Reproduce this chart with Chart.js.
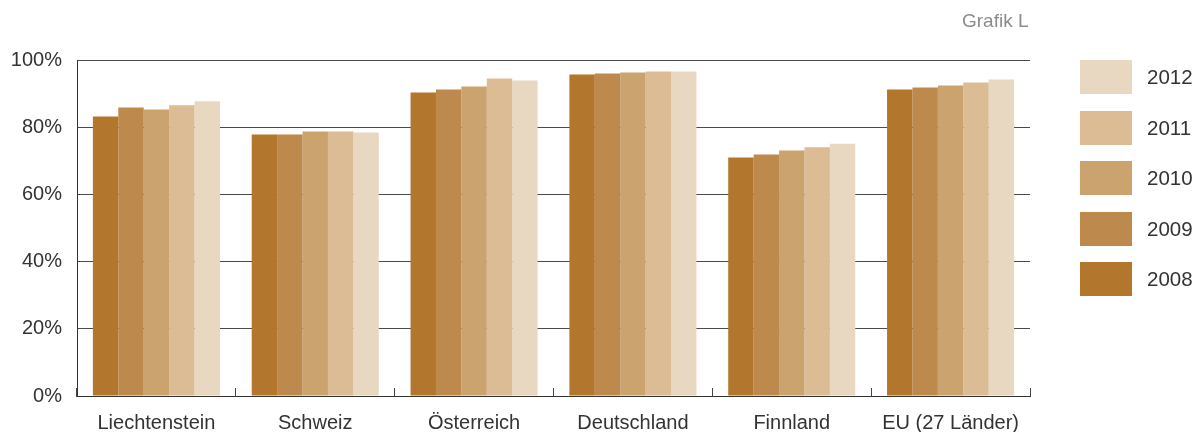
<!DOCTYPE html>
<html>
<head>
<meta charset="utf-8">
<script src="https://cdn.jsdelivr.net/npm/chart.js@4"></script>
<style>
  body { margin: 0; background: #fff; font-family: "Liberation Sans", Arial, sans-serif; }
  #wrap { position: relative; width: 1197px; height: 432px; overflow: hidden; }
  #chartbox { position: absolute; left: 0; top: 0; width: 1197px; height: 432px; }
  #source { position: absolute; left: 962px; top: 10px; font-size: 19px; color: #8c8c8c; }
  #legend { position: absolute; left: 1080px; top: 60px; }
  .item { display: flex; align-items: center; height: 34px; margin-bottom: 16.5px; }
  .swatch { width: 52px; height: 34px; }
  .lbl { margin-left: 15px; font-size: 20.5px; color: #333; }
</style>
</head>
<body>
<div id="wrap">
  <div id="chartbox"><canvas id="cnv"></canvas></div>
  <div id="source">Grafik L</div>
  <div id="legend"></div>
</div>
<script>
const countries = ['Liechtenstein', 'Schweiz', 'Österreich', 'Deutschland', 'Finnland', 'EU (27 Länder)'];
const years = ['2008', '2009', '2010', '2011', '2012'];
const yearColors = ['#b3762d', '#be894c', '#cba36f', '#dbbc95', '#e8d8c2'];

// share in percent, one array per year, same order as countries
const values2008 = [83.2, 77.8, 90.3, 95.7, 71.0, 91.2];
const values2009 = [85.9, 77.8, 91.2, 96.0, 71.9, 91.8];
const values2010 = [85.3, 78.7, 92.1, 96.3, 73.1, 92.4];
const values2011 = [86.5, 78.7, 94.5, 96.6, 74.0, 93.3];
const values2012 = [87.7, 78.4, 93.9, 96.6, 75.1, 94.2];
const allValues = [values2008, values2009, values2010, values2011, values2012];

const yTicks = [0, 20, 40, 60, 80, 100];

const FONT = '"Liberation Sans", Arial, sans-serif';

function buildDatasets(){
  return years.map((year, i) => {
    return {
      label: year,
      data: allValues[i],
      backgroundColor: yearColors[i],
      borderWidth: 0,
      categoryPercentage: 0.8,
      barPercentage: 1.0
    }
  });
}

function buildLegend(){
  const box = document.getElementById('legend');
  // newest year on top
  for (let i = years.length - 1; i >= 0; i--) {
    const item = document.createElement('div');
    item.className = 'item';
    const sw = document.createElement('div');
    sw.className = 'swatch';
    sw.style.background = yearColors[i];
    const lbl = document.createElement('div');
    lbl.className = 'lbl';
    lbl.textContent = years[i];
    item.appendChild(sw);
    item.appendChild(lbl);
    box.appendChild(item);
  }
}

buildLegend();

const ctx = document.getElementById('cnv').getContext('2d');
new Chart(ctx, {
  type: 'bar',
  data: {
    labels: countries,
    datasets: buildDatasets()
  },
  options: {
    responsive: true,
    maintainAspectRatio: false,
    animation: false,
    events: [],
    layout: {
      padding: { top: 60, right: 167, left: 0, bottom: 0 }
    },
    plugins: {
      legend: { display: false },
      tooltip: { enabled: false },
      title: { display: false }
    },
    scales: {
      x: {
        grid: {
          offset: true,
          drawOnChartArea: false,
          drawTicks: true,
          tickLength: -8,   // small marks pointing up into the plot
          color: '#444',
          lineWidth: 1
        },
        border: { display: true, color: '#333', width: 1 },
        ticks: {
          font: { family: FONT, size: 20 },
          color: '#333',
          padding: 23
        },
        afterFit: scale => { scale.height = 36; }
      },
      y: {
        min: 0,
        max: 100,
        afterBuildTicks: scale => { scale.ticks = yTicks.map(v => ({ value: v })); },
        ticks: {
          font: { family: FONT, size: 20 },
          color: '#333',
          padding: 15,
          callback: v => v + '%'
        },
        grid: {
          color: '#4a4a4a',
          lineWidth: 1,
          drawTicks: false
        },
        border: { display: true, color: '#333', width: 1 },
        afterFit: scale => { scale.width = 77; }
      }
    }
  }
});
</script>
</body>
</html>
